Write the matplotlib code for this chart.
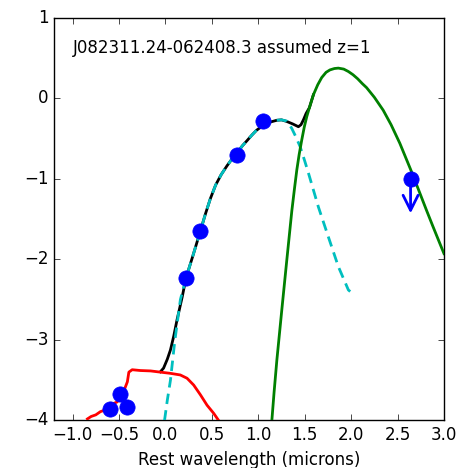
import matplotlib
matplotlib.use("Agg")
import matplotlib.pyplot as plt
import numpy as np

# photometry (log rest wavelength, log flux)
phot_x = [-0.598, -0.49, -0.41, 0.222, 0.376, 0.77, 1.05, 2.64]
phot_y = [-3.857, -3.67, -3.83, -2.23, -1.65, -0.70, -0.28, -1.0]
uplim_x = 2.64
uplim_top = -1.0
uplim_tip = -1.43

# red component (short wavelength template)
red_x = [-0.84, -0.80, -0.75, -0.70, -0.65, -0.58, -0.52, -0.45, -0.41, -0.394,
         -0.358, -0.27, -0.16, -0.054, 0.054, 0.16, 0.233, 0.304, 0.376, 0.448,
         0.519, 0.573]
red_y = [-3.98, -3.95, -3.93, -3.89, -3.87, -3.80, -3.77, -3.64, -3.52, -3.40,
         -3.37, -3.38, -3.385, -3.40, -3.415, -3.435, -3.476, -3.56, -3.68, -3.81,
         -3.91, -4.0]

# cyan dashed component
cyan_x = [-0.01, 0.02, 0.054, 0.10, 0.161, 0.222, 0.30, 0.376, 0.43, 0.483,
          0.54, 0.60, 0.663, 0.72, 0.77, 0.83, 0.877, 0.93, 0.98, 1.05,
          1.12, 1.20, 1.25, 1.307, 1.36, 1.40, 1.45, 1.50, 1.54, 1.647,
          1.754, 1.862, 1.97, 1.99]
cyan_y = [-4.0, -3.75, -3.50, -3.02, -2.50, -2.23, -1.94, -1.65, -1.44, -1.25,
          -1.08, -0.95, -0.84, -0.75, -0.68, -0.59, -0.53, -0.46, -0.40, -0.34,
          -0.30, -0.275, -0.27, -0.285, -0.375, -0.47, -0.60, -0.78, -0.93, -1.35,
          -1.72, -2.09, -2.38, -2.40]

# green component (far-IR)
green_x = [1.146, 1.17, 1.20, 1.253, 1.307, 1.361, 1.39, 1.415, 1.44, 1.468,
           1.495, 1.522, 1.55, 1.593, 1.64, 1.683, 1.73, 1.772, 1.82, 1.862,
           1.92, 1.97, 2.02, 2.07, 2.12, 2.166, 2.25, 2.345, 2.43, 2.524,
           2.642, 2.72, 2.811, 2.88, 2.954, 3.0]
green_y = [-4.0, -3.65, -3.25, -2.63, -2.01, -1.40, -1.12, -0.89, -0.70, -0.52,
           -0.36, -0.23, -0.12, 0.04, 0.165, 0.255, 0.32, 0.35, 0.367, 0.372,
           0.36, 0.33, 0.29, 0.24, 0.18, 0.13, 0.01, -0.15, -0.33, -0.56,
           -0.89, -1.12, -1.39, -1.59, -1.80, -1.93]

# black total model, up to where it joins the green curve
total_head_x = [-0.054, -0.02, 0.02, 0.054, 0.09, 0.125, 0.18, 0.222, 0.30, 0.376,
                0.43, 0.483, 0.54, 0.60, 0.663, 0.72, 0.77, 0.83, 0.877, 0.93,
                0.98, 1.05, 1.12, 1.20, 1.25, 1.307, 1.37, 1.432, 1.46, 1.486,
                1.515]
total_head_y = [-3.395, -3.35, -3.24, -3.125, -2.95, -2.75, -2.47, -2.23, -1.94, -1.65,
                -1.44, -1.25, -1.08, -0.95, -0.84, -0.75, -0.68, -0.59, -0.53, -0.46,
                -0.40, -0.34, -0.30, -0.275, -0.27, -0.29, -0.32, -0.355, -0.33, -0.27,
                -0.19]
join_x = 1.55
join_end = 1.6

title_text = "J082311.24-062408.3 assumed z=1"

# beyond the join the total sits under the green curve
total_x = total_head_x + [gx for gx in green_x if join_x <= gx <= join_end]
total_y = total_head_y + [gy for gx, gy in zip(green_x, green_y)
                          if join_x <= gx <= join_end]

plt.style.use('classic')
fig = plt.figure(figsize=(4.66, 4.68), dpi=100)
fig.patch.set_facecolor('white')
ax = fig.add_axes([0.1159, 0.1015, 0.8369, 0.8611])

ax.plot(total_x, total_y, color='k', lw=2, zorder=2)
ax.plot(red_x, red_y, color='r', lw=2, zorder=3)
ax.plot(cyan_x, cyan_y, color='c', lw=2, ls='--', dashes=(7.5, 4.5), zorder=3)
ax.plot(green_x, green_y, color='g', lw=2, zorder=4)

ax.annotate('', xy=(uplim_x, uplim_tip), xytext=(uplim_x, uplim_top),
            arrowprops=dict(arrowstyle='->', color='b', lw=2,
                            mutation_scale=27, shrinkA=0, shrinkB=0),
            zorder=5)
ax.plot(phot_x, phot_y, 'o', color='b', mec='b', ms=11, zorder=6)

ax.text(-1.0, 0.62, title_text, fontsize=12, va='center', ha='left')

ax.set_xlim(-1.2, 3.0)
ax.set_ylim(-4, 1)
ax.set_xticks(np.arange(-1.0, 3.01, 0.5))
ax.set_yticks(np.arange(-4, 1.01, 1))
ax.set_xlabel('Rest wavelength (microns)', fontsize=12)

fig.savefig('out.png', dpi=100, facecolor='white')
